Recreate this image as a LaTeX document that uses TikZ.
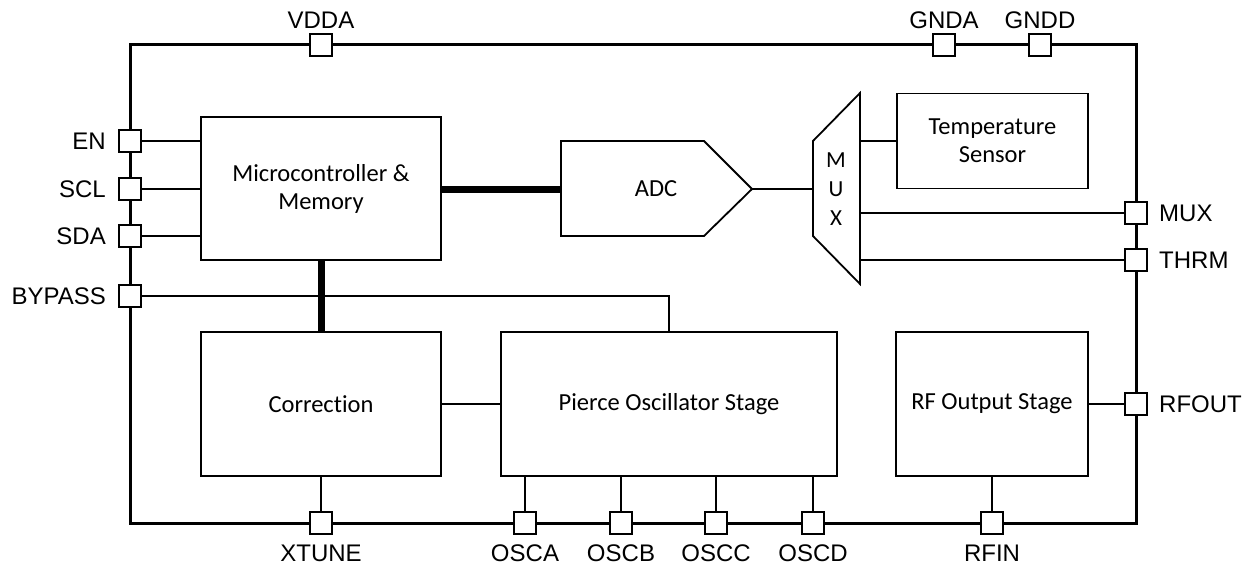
\documentclass[tikz,border=0pt]{standalone}
\usepackage{fontspec}
\setmainfont[Ligatures=NoCommon]{Carlito}
\newfontfamily\pinfont{Liberation Sans}
\begin{document}
\begin{tikzpicture}[x=1pt,y=-1pt,
  outer/.style={line width=3pt},
  wire/.style={line width=1.8pt},
  bus/.style={line width=7pt},
  pad/.style={draw, fill=white, line width=1.8pt, minimum size=22.5pt, inner sep=0pt},
  blk/.style={draw, line width=1.8pt, align=center, inner sep=0pt, font=\fontsize{24.5}{28}\selectfont},
  pin/.style={font=\pinfont\fontsize{24}{27}\selectfont, inner sep=0pt}]
\useasboundingbox (0,0) rectangle (1248,567);

% chip outline
\draw[outer] (130,45) rectangle (1136,523);

% blocks
\node[blk, minimum width=240pt, minimum height=143pt] (mcu) at (321,188.5) {Microcontroller \&\\Memory};
\node[blk, minimum width=240pt, minimum height=144pt] (corr) at (321,404) {Correction};
\node[blk, minimum width=336pt, minimum height=144pt] (pierce) at (669,404) {Pierce Oscillator Stage};
\node[blk, minimum width=192pt, minimum height=144pt] (rf) at (992,404) {RF Output Stage};
\node[blk, minimum width=191pt, minimum height=95pt] (temp) at (992.5,141) {Temperature\\Sensor};

% ADC
\coordinate (adcL) at (561,189);
\coordinate (adcT) at (752,189);
\draw[wire, line join=miter] (561,141) -- (704,141) -- (adcT) -- (704,236) -- (561,236) -- cycle;
\node[font=\fontsize{24.5}{28}\selectfont] (adctxt) at (656,189) {ADC};

% MUX
\coordinate (muxL) at (813,189);
\coordinate (muxR) at (860,189);
\draw[wire] (813,141) -- (860,93) -- (860,284) -- (813,236) -- cycle;
\node[align=center, inner sep=0pt, font=\fontsize{23}{29}\selectfont] (muxtxt) at (836,189) {M\\U\\X};

% pads
\node[pad] (vdda) at (321,45) {};
\node[pad] (gnda) at (944,45) {};
\node[pad] (gndd) at (1040,45) {};
\node[pad] (en) at (130,141) {};
\node[pad] (scl) at (130,189) {};
\node[pad] (sda) at (130,236) {};
\node[pad] (bypass) at (130,296) {};
\node[pad] (muxp) at (1136,213) {};
\node[pad] (thrm) at (1136,260) {};
\node[pad] (rfout) at (1136,404) {};
\node[pad] (xtune) at (321,523) {};
\node[pad] (osca) at (525,523) {};
\node[pad] (oscb) at (621,523) {};
\node[pad] (oscc) at (716,523) {};
\node[pad] (oscd) at (813,523) {};
\node[pad] (rfin) at (992,523) {};

% pin labels
\node[pin] (lvdda) at (321,20) {VDDA};
\node[pin] (lgnda) at (944,20) {GNDA};
\node[pin] (lgndd) at (1040,20) {GNDD};
\node[pin, anchor=east] (len) at (106,141) {EN};
\node[pin, anchor=east] (lscl) at (106,189) {SCL};
\node[pin, anchor=east] (lsda) at (106,236) {SDA};
\node[pin, anchor=east] (lbypass) at (106,296) {BYPASS};
\node[pin, anchor=west] (lmux) at (1159,213) {MUX};
\node[pin, anchor=west] (lthrm) at (1159,260) {THRM};
\node[pin, anchor=west] (lrfout) at (1159,404) {RFOUT};
\node[pin] (lxtune) at (321,553.5) {XTUNE};
\node[pin] (losca) at (525,553.5) {OSCA};
\node[pin] (loscb) at (621,553.5) {OSCB};
\node[pin] (loscc) at (716,553.5) {OSCC};
\node[pin] (loscd) at (813,553.5) {OSCD};
\node[pin] (lrfin) at (992,553.5) {RFIN};

% buses
\draw[bus] (mcu.east |- adcL) -- (adcL);
\draw[bus] (mcu.south) -- (corr.north);

% wires
\draw[wire] (en.east) -- (en.east -| mcu.west);
\draw[wire] (scl.east) -- (scl.east -| mcu.west);
\draw[wire] (sda.east) -- (sda.east -| mcu.west);
\draw[wire] (bypass.east) -| (pierce.north);
\draw[wire] (corr.east) -- (pierce.west);
\draw[wire] (rf.east) -- (rfout.west);
\draw[wire] (corr.south) -- (xtune.north);
\draw[wire] (osca.north) -- (osca.north |- pierce.south);
\draw[wire] (oscb.north) -- (oscb.north |- pierce.south);
\draw[wire] (oscc.north) -- (oscc.north |- pierce.south);
\draw[wire] (oscd.north) -- (oscd.north |- pierce.south);
\draw[wire] (rf.south) -- (rfin.north);
\draw[wire] (adcT) -- (muxL);
\draw[wire] (temp.west) -- (temp.west -| muxR);
\draw[wire] (muxp.west) -- (muxp.west -| muxR);
\draw[wire] (thrm.west) -- (thrm.west -| muxR);
\end{tikzpicture}
\end{document}
